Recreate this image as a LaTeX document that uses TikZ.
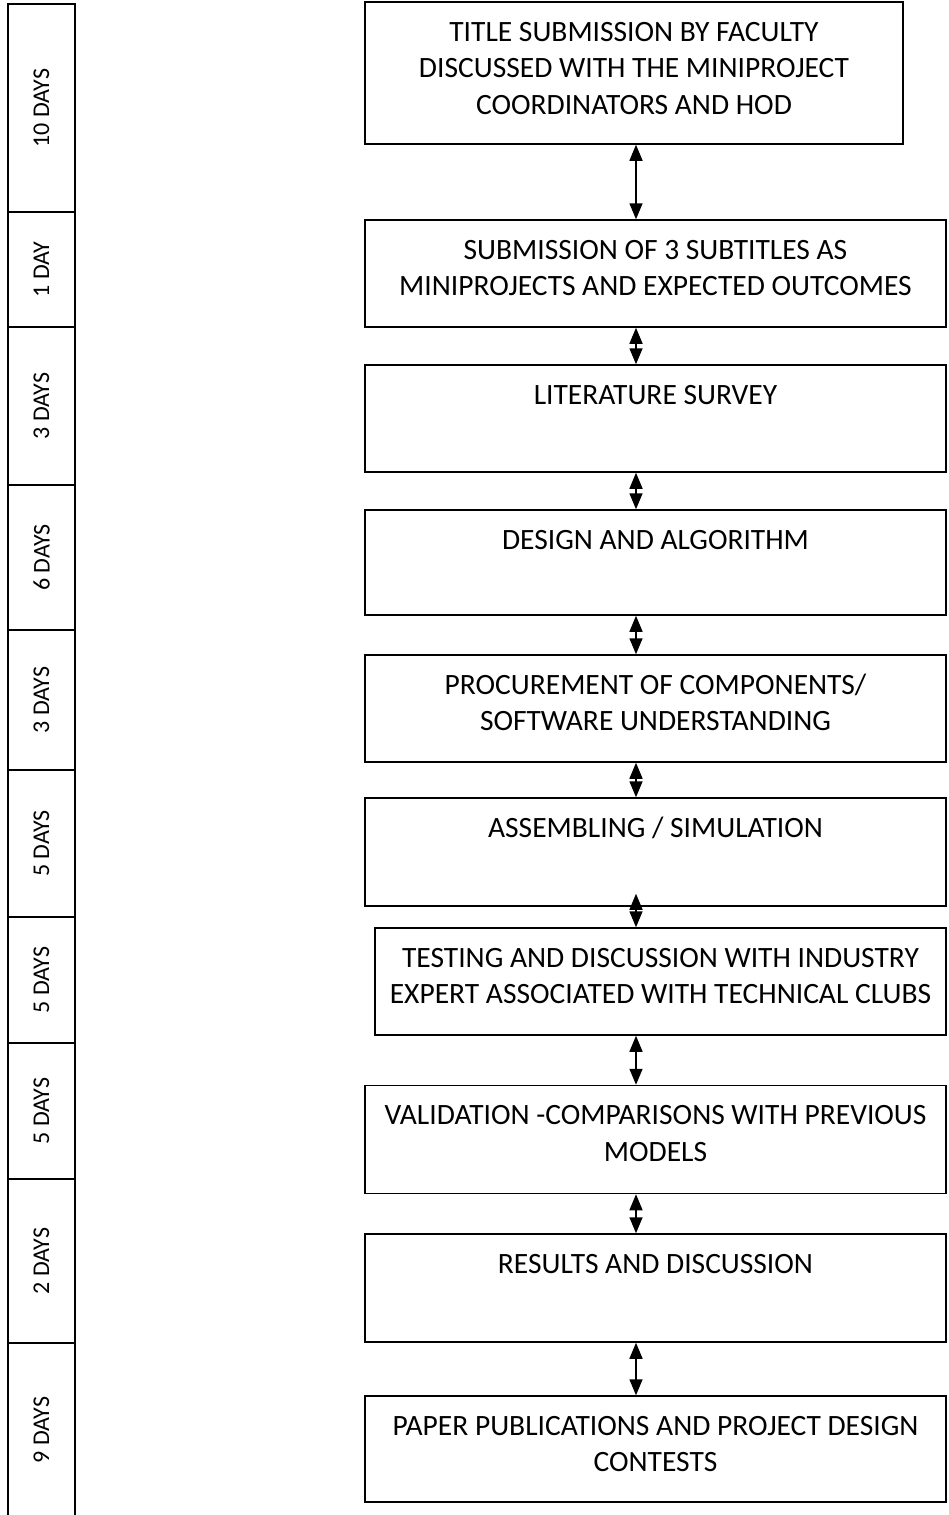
\documentclass[tikz,border=0pt]{standalone}
\usepackage{fontspec}
\setmainfont{Carlito}
\usepackage{graphicx}
\usepackage{tikz}
\usetikzlibrary{arrows.meta}

\tikzset{
  stepbox/.style={draw, line width=1.5pt, inner sep=0pt},
  daycell/.style={draw, line width=1.5pt, minimum width=67pt, inner sep=0pt, font=\fontsize{24}{29}\selectfont},
}
% text sits at the top of each box
\newcommand{\steptext}[3]{\parbox[c][#2][t]{#1}{\centering\fontsize{29.5}{36.5}\selectfont\rule{0pt}{39pt}#3}}

\begin{document}
\begin{tikzpicture}[x=1pt, y=-1pt, line width=1.5pt, >={Triangle[width=13pt,length=16pt]}]
\useasboundingbox (0,0) rectangle (948,1515);

% days column
\node[daycell, minimum height=208pt] (day1) at (41.5,108) {\rotatebox{90}{10 DAYS}};
\node[daycell, minimum height=115pt] (day2) at (41.5,269.5) {\rotatebox{90}{1 DAY}};
\node[daycell, minimum height=158pt] (day3) at (41.5,406) {\rotatebox{90}{3 DAYS}};
\node[daycell, minimum height=145pt] (day4) at (41.5,557.5) {\rotatebox{90}{6 DAYS}};
\node[daycell, minimum height=140pt] (day5) at (41.5,700) {\rotatebox{90}{3 DAYS}};
\node[daycell, minimum height=147pt] (day6) at (41.5,843.5) {\rotatebox{90}{5 DAYS}};
\node[daycell, minimum height=126pt] (day7) at (41.5,980) {\rotatebox{90}{5 DAYS}};
\node[daycell, minimum height=136pt] (day8) at (41.5,1111) {\rotatebox{90}{5 DAYS}};
\node[daycell, minimum height=164pt] (day9) at (41.5,1261) {\rotatebox{90}{2 DAYS}};
\node[daycell, minimum height=174pt] (day10) at (41.5,1430) {\rotatebox{90}{9 DAYS}};

% steps
\node[stepbox] (title) at (634,73) {\steptext{538pt}{142pt}{TITLE SUBMISSION BY FACULTY\\DISCUSSED WITH THE MINIPROJECT\\COORDINATORS AND HOD}};
\node[stepbox] (subtitles) at (655.5,273.5) {\steptext{581pt}{107pt}{SUBMISSION OF 3 SUBTITLES AS\\MINIPROJECTS AND EXPECTED OUTCOMES}};
\node[stepbox] (survey) at (655.5,418.5) {\steptext{581pt}{107pt}{LITERATURE SURVEY}};
\node[stepbox] (design) at (655.5,562.5) {\steptext{581pt}{105pt}{DESIGN AND ALGORITHM}};
\node[stepbox] (procure) at (655.5,708.5) {\steptext{581pt}{107pt}{PROCUREMENT OF COMPONENTS/\\SOFTWARE UNDERSTANDING}};
\node[stepbox] (assemble) at (655.5,852) {\steptext{581pt}{108pt}{ASSEMBLING / SIMULATION}};
\node[stepbox] (testing) at (660.5,981.5) {\steptext{571pt}{107pt}{TESTING AND DISCUSSION WITH INDUSTRY\\EXPERT ASSOCIATED WITH TECHNICAL CLUBS}};
\node[stepbox] (validate) at (655.5,1139.5) {\steptext{581pt}{108pt}{VALIDATION -COMPARISONS WITH PREVIOUS\\MODELS}};
\node[stepbox] (results) at (655.5,1288) {\steptext{581pt}{108pt}{RESULTS AND DISCUSSION}};
\node[stepbox] (papers) at (655.5,1449) {\steptext{581pt}{106pt}{PAPER PUBLICATIONS AND PROJECT DESIGN\\CONTESTS}};

% arrows between steps
\coordinate (axis) at (636,0);
\draw[<->] (title.south -| axis) -- (subtitles.north -| axis);
\draw[<->] (subtitles.south -| axis) -- (survey.north -| axis);
\draw[<->] (survey.south -| axis) -- (design.north -| axis);
\draw[<->] (design.south -| axis) -- (procure.north -| axis);
\draw[<->] (procure.south -| axis) -- (assemble.north -| axis);
\draw[<->] ([yshift=13pt]assemble.south -| axis) -- (testing.north -| axis);
\draw[<->] (testing.south -| axis) -- (validate.north -| axis);
\draw[<->] (validate.south -| axis) -- (results.north -| axis);
\draw[<->] (results.south -| axis) -- (papers.north -| axis);
\end{tikzpicture}
\end{document}
